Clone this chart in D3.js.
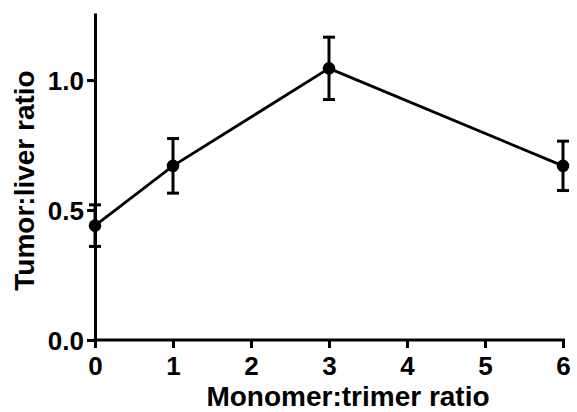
<!DOCTYPE html>
<html>
<head>
<meta charset="utf-8">
<script src="https://cdn.jsdelivr.net/npm/d3@7"></script>
<style>
  body { margin: 0; background: #fff; }
  svg text { font-family: "Liberation Sans", Arial, sans-serif; font-weight: bold; }
</style>
</head>
<body>
<div id="chart"></div>
<script>
// monomer:trimer ratio vs tumor:liver ratio (mean +/- error)
const ratios = [0, 1, 3, 6];
const means = [0.44, 0.67, 1.045, 0.67];
const errors = [0.08, 0.105, 0.12, 0.095];
const xTicks = [0, 1, 2, 3, 4, 5, 6];
const yTicks = [0.0, 0.5, 1.0];

const W = 577, H = 412;
const margin = { top: 13, right: 14, bottom: 72, left: 95 };
const width = W - margin.left - margin.right;
const height = H - margin.top - margin.bottom;

const data = ratios.map((r, i) => ({ x: r, y: means[i], e: errors[i] }));

const svg = d3.select('#chart')
    .append('svg')
    .attr('width', W)
    .attr('height', H)
    .append('g')
    .attr('transform', `translate(${margin.left},${margin.top})`);

const xScale = d3.scaleLinear().domain([0, 6]).range([0, 468]);
const yScale = d3.scaleLinear().domain([0, 1.258]).range([height, 0]);

const xAxis = svg.append('g')
    .attr('transform', `translate(0,${height})`)
    .call(d3.axisBottom(xScale).tickValues(xTicks).tickSize(8).tickSizeOuter(0).tickPadding(7).tickFormat(d3.format('d')));

const yAxis = svg.append('g')
    .call(d3.axisLeft(yScale).tickValues(yTicks).tickSize(8).tickSizeOuter(0).tickPadding(3).tickFormat(d3.format('.1f')));

[xAxis, yAxis].forEach(ax => {
    ax.attr('font-size', 26).attr('font-family', null);
    ax.select('.domain').attr('stroke', '#000').attr('stroke-width', 3);
    ax.selectAll('.tick line').attr('stroke', '#000').attr('stroke-width', 3);
    ax.selectAll('.tick text').attr('fill', '#000');
});
xAxis.select('.domain').attr('d', `M-1.5,0H${xScale(6) + 2}`);
xAxis.selectAll('.tick text').attr('dy', '0.76em');
yAxis.selectAll('.tick text').attr('dy', '0.36em');

// error bars
const bars = svg.selectAll('g.err')
    .data(data)
    .join('g')
    .attr('class', 'err');

bars.append('line')
    .attr('x1', d => xScale(d.x))
    .attr('x2', d => xScale(d.x))
    .attr('y1', d => yScale(d.y + d.e))
    .attr('y2', d => yScale(d.y - d.e))
    .attr('stroke', '#000')
    .attr('stroke-width', 3);

bars.selectAll('line.cap')
    .data(d => [d.y + d.e, d.y - d.e].map(v => ({ x: d.x, v })))
    .join('line')
    .attr('class', 'cap')
    .attr('x1', d => xScale(d.x) - 6)
    .attr('x2', d => xScale(d.x) + 6)
    .attr('y1', d => yScale(d.v))
    .attr('y2', d => yScale(d.v))
    .attr('stroke', '#000')
    .attr('stroke-width', 3);

const line = d3.line()
    .x(d => xScale(d.x))
    .y(d => yScale(d.y));

svg.append('path')
    .datum(data)
    .attr('d', line)
    .attr('fill', 'none')
    .attr('stroke', '#000')
    .attr('stroke-width', 2.8);

svg.selectAll('circle.pt')
    .data(data)
    .join('circle')
    .attr('class', 'pt')
    .attr('cx', d => xScale(d.x))
    .attr('cy', d => yScale(d.y))
    .attr('r', 6.3)
    .attr('fill', '#000');

// axis titles
svg.append('text')
    .attr('x', 253)
    .attr('y', height + 66)
    .attr('text-anchor', 'middle')
    .attr('font-size', 28)
    .text('Monomer:trimer ratio');

svg.append('text')
    .attr('transform', `translate(${-61},${height / 2 + 4}) rotate(-90)`)
    .attr('text-anchor', 'middle')
    .attr('font-size', 28)
    .text('Tumor:liver ratio');
</script>
</body>
</html>
